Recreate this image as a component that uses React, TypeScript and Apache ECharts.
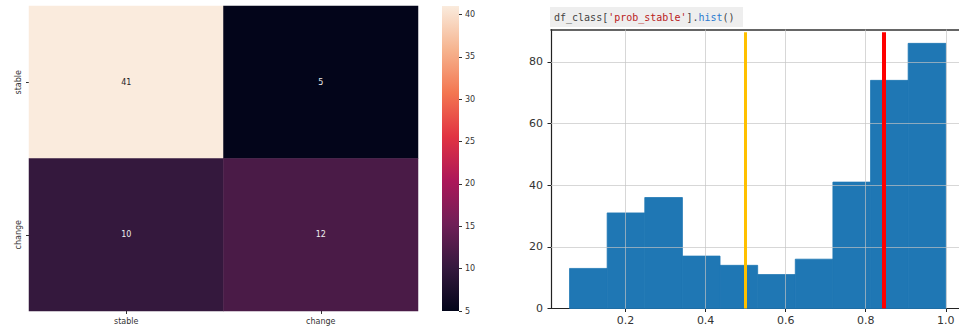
import React, { useEffect, useRef } from "react";
import * as echarts from "echarts";

// Confusion matrix (rows: actual, cols: predicted)
const cmLabels = ["stable", "change"];
const cmValues = [
  [41, 5],
  [10, 12],
];
const cbTicks = [5, 10, 15, 20, 25, 30, 35, 40];
const cbMin = 5;
const cbMax = 41;
const rocket = ["#03051a", "#35193e", "#701f57", "#ad1759", "#e13342", "#f37651", "#f6b48f", "#faebdd"];

// Histogram of prob_stable
const binEdges = [0.06, 0.154, 0.248, 0.342, 0.436, 0.53, 0.624, 0.718, 0.812, 0.906, 1.0];
const binCounts = [13, 31, 36, 17, 14, 11, 16, 41, 74, 86];
const histXTicks = [0.2, 0.4, 0.6, 0.8, 1.0];
const histYTicks = [0, 20, 40, 60, 80];
const thresholdYellow = 0.5;
const thresholdRed = 0.845;
const thresholdTop = 89.6;

export default function App() {
  const ref = useRef<HTMLDivElement>(null);
  useEffect(() => {
    const chart = echarts.init(ref.current!, null, { renderer: "svg" });
    const heatData: any[] = [];
    cmValues.forEach((row, r) =>
      row.forEach((v, c) => {
        heatData.push({
          value: [c, r, v],
          label: { color: v > 30 ? "#262626" : "#eeeeee" },
        });
      })
    );
    const histData = binCounts.map((c, i) => [binEdges[i], binEdges[i + 1], c]);
    const rocketStops = rocket
      .slice()
      .reverse()
      .map((col, i) => ({ offset: i / (rocket.length - 1), color: col }));
    const gridLineData: any[] = [
      ...histXTicks.map((x) => ({ xAxis: x })),
      ...histYTicks.filter((y) => y > 0).map((y) => ({ yAxis: y })),
    ];
    const font = "DejaVu Sans";
    chart.setOption({
      animation: false,
      textStyle: { fontFamily: font },
      grid: [
        { left: 29, top: 6, width: 389, height: 305 },
        { left: 442, top: 6, width: 17, height: 305 },
        { left: 551, top: 29.5, right: 0, height: 279 },
      ],
      xAxis: [
        {
          type: "category",
          gridIndex: 0,
          data: cmLabels,
          axisLine: { show: false },
          axisTick: { show: true, length: 3, alignWithLabel: true, lineStyle: { color: "#333" } },
          axisLabel: { fontSize: 8, color: "#333", margin: 6 },
          splitLine: { show: false },
        },
        {
          type: "category",
          gridIndex: 1,
          data: ["cb"],
          show: false,
        },
        {
          type: "value",
          gridIndex: 2,
          min: 0.0137,
          max: 1.033,
          axisLine: { show: true, onZero: false, lineStyle: { color: "#222", width: 1.2 } },
          axisTick: { show: true, length: 3.5, customValues: histXTicks, lineStyle: { color: "#222" } },
          axisLabel: {
            fontSize: 11,
            color: "#333",
            margin: 6,
            customValues: histXTicks,
            formatter: (v: number) => v.toFixed(1),
          },
          splitLine: { show: false },
        },
        {
          type: "value",
          gridIndex: 2,
          position: "top",
          min: 0.0137,
          max: 1.033,
          axisLine: { show: true, onZero: false, lineStyle: { color: "#333", width: 1.5 } },
          axisTick: { show: false },
          axisLabel: { show: false },
          splitLine: { show: false },
        },
      ],
      yAxis: [
        {
          type: "category",
          gridIndex: 0,
          data: cmLabels,
          inverse: true,
          axisLine: { show: false },
          axisTick: { show: true, length: 3, alignWithLabel: true, lineStyle: { color: "#333" } },
          axisLabel: { fontSize: 8, color: "#333", margin: 7, rotate: 90 },
          splitLine: { show: false },
        },
        {
          type: "value",
          gridIndex: 1,
          position: "right",
          min: cbMin,
          max: cbMax,
          axisLine: { show: false },
          axisTick: { show: true, length: 3, customValues: cbTicks, lineStyle: { color: "#333" } },
          axisLabel: { fontSize: 8, color: "#333", margin: 6, customValues: cbTicks },
          splitLine: { show: false },
        },
        {
          type: "value",
          gridIndex: 2,
          min: 0,
          max: 90.5,
          axisLine: { show: true, onZero: false, lineStyle: { color: "#222", width: 1.2 } },
          axisTick: { show: true, length: 3.5, customValues: histYTicks, lineStyle: { color: "#222" } },
          axisLabel: { fontSize: 11, color: "#333", margin: 8, customValues: histYTicks },
          splitLine: { show: false },
        },
      ],
      visualMap: {
        type: "continuous",
        show: false,
        min: cbMin,
        max: cbMax,
        seriesIndex: 0,
        dimension: 2,
        inRange: { color: rocket },
      },
      series: [
        {
          type: "heatmap",
          xAxisIndex: 0,
          yAxisIndex: 0,
          data: heatData,
          label: { show: true, fontSize: 8, fontFamily: font },
          itemStyle: { borderWidth: 0 },
        },
        {
          type: "bar",
          xAxisIndex: 1,
          yAxisIndex: 1,
          data: [cbMax],
          barWidth: "100%",
          itemStyle: {
            color: new echarts.graphic.LinearGradient(0, 0, 0, 1, rocketStops),
          },
        },
        {
          type: "custom",
          xAxisIndex: 2,
          yAxisIndex: 2,
          data: histData,
          encode: { x: [0, 1], y: 2 },
          renderItem: (params: any, api: any) => {
            const p0 = api.coord([api.value(0), 0]);
            const p1 = api.coord([api.value(1), api.value(2)]);
            return {
              type: "rect",
              shape: { x: p0[0], y: p1[1], width: p1[0] - p0[0], height: p0[1] - p1[1] },
              style: { fill: "#1f77b4", stroke: "#1f77b4", lineWidth: 0.8 },
            };
          },
          z: 2,
        },
        {
          type: "line",
          xAxisIndex: 2,
          yAxisIndex: 2,
          data: [],
          z: 5,
          markLine: {
            silent: true,
            symbol: "none",
            label: { show: false },
            lineStyle: { color: "#c4c4c4", width: 0.9, type: "solid", opacity: 0.75 },
            data: gridLineData,
          },
        },
        {
          type: "line",
          xAxisIndex: 2,
          yAxisIndex: 2,
          data: [],
          z: 6,
          markLine: {
            silent: true,
            symbol: "none",
            label: { show: false },
            data: [
              [
                { coord: [thresholdYellow, 0], lineStyle: { color: "#ffc000", width: 3, type: "solid" } },
                { coord: [thresholdYellow, thresholdTop] },
              ],
              [
                { coord: [thresholdRed, 0], lineStyle: { color: "#ff0000", width: 4, type: "solid" } },
                { coord: [thresholdRed, thresholdTop] },
              ],
            ],
          },
        },
      ],
      graphic: [
        {
          type: "rect",
          shape: { x: 550, y: 7, width: 193, height: 20 },
          style: { fill: "#eeeeee" },
        },
        {
          type: "text",
          x: 554,
          y: 17,
          style: {
            text: "{g|df_class[}{r|'prob_stable'}{g|].}{b|hist}{g|()}",
            verticalAlign: "middle",
            fontFamily: "DejaVu Sans Mono",
            fontSize: 10,
            rich: {
              g: { fill: "#444", fontFamily: "DejaVu Sans Mono", fontSize: 10 },
              r: { fill: "#ba2121", fontFamily: "DejaVu Sans Mono", fontSize: 10 },
              b: { fill: "#2a7bd0", fontFamily: "DejaVu Sans Mono", fontSize: 10 },
            },
          },
        },
      ],
    });
    return () => chart.dispose();
  }, []);
  return <div ref={ref} style={{ width: 959, height: 331, position: "absolute", left: 0, top: 0 }} />;
}
